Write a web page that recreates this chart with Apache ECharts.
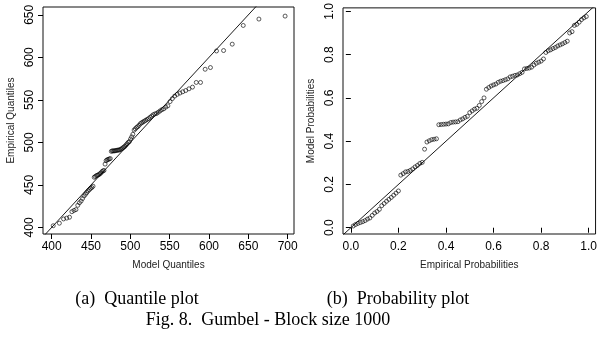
<!DOCTYPE html>
<html><head><meta charset="utf-8">
<script src="https://cdn.jsdelivr.net/npm/echarts@6.0.0/dist/echarts.min.js"></script>
<style>html,body{margin:0;padding:0;background:#fff}#c{width:600px;height:337px}</style>
</head><body><div id="c"></div>
<script>
// ---- data ----
const modelQuantiles = [
402.0,409.8,415.1,419.2,422.7,425.7,428.4,430.9,433.2,435.3,
437.4,439.3,441.2,443.0,444.7,446.3,448.0,449.5,451.1,452.6,
454.1,455.5,457.0,458.4,459.8,461.2,462.5,463.9,465.2,466.5,
467.9,469.2,470.5,471.8,473.1,474.5,475.8,477.1,478.4,479.7,
481.0,482.3,483.7,485.0,486.3,487.7,489.0,490.4,491.8,493.2,
494.6,496.0,497.4,498.8,500.3,501.7,503.2,504.8,506.3,507.9,
509.4,511.0,512.7,514.4,516.0,517.8,519.6,521.4,523.2,525.1,
527.1,529.1,531.2,533.3,535.5,537.8,540.1,542.5,545.1,547.7,
550.5,553.4,556.4,559.6,563.0,566.6,570.4,574.5,579.0,583.8,
589.2,595.1,601.8,609.5,618.5,629.5,643.5,663.4,696.7];
const empiricalQuantiles = [
402,405,410,411,412,418.5,420,421,426,429,
431,434,437,439,441,443,444.5,446,447,448.5,
459,460,461,461.5,462,463,464,465.5,466.5,467,
474.5,478.5,479.5,480,480.5,481,489.5,490,490,490,
490.3,490.6,490.8,491,491.2,491.8,492.5,493.5,494.5,495.5,
497,498.5,500,501,504,506.5,509.5,514.5,516,517.5,
518.5,520,522,523,524,525,526,527,528,529.5,
531,532.5,533.5,534,535.5,537,538.5,539.5,541.5,543,
548,551.5,554.5,556.5,558,559.5,561,563,565,570.5,
570.5,586,588,607.5,608,615.5,637.5,645,648.5];
const empiricalProbabilities = [
0.01,0.02,0.03,0.04,0.05,0.06,0.07,0.08,0.09,0.10,
0.11,0.12,0.13,0.14,0.15,0.16,0.17,0.18,0.19,0.20,
0.21,0.22,0.23,0.24,0.25,0.26,0.27,0.28,0.29,0.30,
0.31,0.32,0.33,0.34,0.35,0.36,0.37,0.38,0.39,0.40,
0.41,0.42,0.43,0.44,0.45,0.46,0.47,0.48,0.49,0.50,
0.51,0.52,0.53,0.54,0.55,0.56,0.57,0.58,0.59,0.60,
0.61,0.62,0.63,0.64,0.65,0.66,0.67,0.68,0.69,0.70,
0.71,0.72,0.73,0.74,0.75,0.76,0.77,0.78,0.79,0.80,
0.81,0.82,0.83,0.84,0.85,0.86,0.87,0.88,0.89,0.90,
0.91,0.92,0.93,0.94,0.95,0.96,0.97,0.98,0.99];
const modelProbabilities = [
.008,.015,.020,.024,.028,.033,.040,.045,.057,.068,
.075,.085,.102,.112,.122,.131,.140,.150,.160,.170,
.243,.250,.258,.260,.265,.272,.281,.288,.297,.302,
.363,.396,.402,.407,.409,.411,.476,.477,.478,.479,
.480,.486,.488,.489,.490,.498,.503,.510,.515,.532,
.540,.548,.552,.565,.583,.600,.640,.648,.655,.660,
.664,.672,.677,.680,.684,.688,.697,.700,.704,.706,
.712,.718,.734,.736,.738,.742,.752,.760,.765,.770,
.780,.810,.818,.822,.828,.833,.840,.845,.850,.856,
.862,.900,.906,.935,.940,.950,.962,.970,.976];
const quantileXTicks = [400,450,500,550,600,650,700];
const quantileYTicks = [400,450,500,550,600,650];
const probTicks = [0,0.2,0.4,0.6,0.8,1];
const quantileXRange = [389, 708];
const quantileYRange = [392.3, 659.2];
const probXRange = [-0.033, 1.029];
const probYRange = [-0.029, 1.016];
const axisTitles = ['Model Quantiles','Empirical Quantiles','Empirical Probabilities','Model Probabilities'];
const captions = ['(a)  Quantile plot','(b)  Probability plot','Fig. 8.  Gumbel - Block size 1000'];

// ---- chart ----
const sans = "'Liberation Sans', Arial, sans-serif";
const serif = "'Liberation Serif', 'Times New Roman', serif";
function mkAxis(grid, range, ticks, fmt, name, gap, isY) {
  return {
    type: 'value', gridIndex: grid, min: range[0], max: range[1],
    axisLine: {show: false},
    splitLine: {show: false},
    axisTick: {show: true, inside: false, length: 5, customValues: ticks,
      lineStyle: {color: '#000', width: 1}},
    axisLabel: {customValues: ticks, formatter: fmt, color: '#000', fontSize: 12,
      fontFamily: sans, margin: isY ? 7 : 7, rotate: isY ? 90 : 0},
    name: name, nameLocation: 'middle', nameGap: gap,
    nameTextStyle: {color: '#222', fontSize: 10, fontFamily: sans}
  };
}
const zip = (a, b) => a.map((v, i) => [v, b[i]]);
const pointStyle = {symbol: 'circle', symbolSize: 4,
  itemStyle: {color: 'rgba(0,0,0,0)', borderColor: '#000', borderWidth: 0.8}};
const chart = echarts.init(document.getElementById('c'), null, {renderer: 'canvas'});
chart.setOption({
  animation: false,
  backgroundColor: '#fff',
  grid: [
    {left: 43, top: 7, width: 251, height: 227, show: true, borderColor: '#111', borderWidth: 1, backgroundColor: 'transparent'},
    {left: 343, top: 7, width: 253, height: 227, show: true, borderColor: '#111', borderWidth: 1, backgroundColor: 'transparent'}
  ],
  xAxis: [
    mkAxis(0, quantileXRange, quantileXTicks, v => String(v), axisTitles[0], 26, false),
    mkAxis(1, probXRange, probTicks, v => v.toFixed(1), axisTitles[2], 26, false)
  ],
  yAxis: [
    mkAxis(0, quantileYRange, quantileYTicks, v => String(v), axisTitles[1], 27, true),
    mkAxis(1, probYRange, probTicks, v => v.toFixed(1), axisTitles[3], 27, true)
  ],
  series: [
    Object.assign({type: 'scatter', xAxisIndex: 0, yAxisIndex: 0,
      data: zip(modelQuantiles, empiricalQuantiles)}, pointStyle),
    {type: 'line', xAxisIndex: 0, yAxisIndex: 0, symbol: 'none', clip: true,
      data: [[quantileXRange[0], quantileXRange[0]], [quantileXRange[1], quantileXRange[1]]],
      lineStyle: {color: '#000', width: 0.9}},
    Object.assign({type: 'scatter', xAxisIndex: 1, yAxisIndex: 1,
      data: zip(empiricalProbabilities, modelProbabilities)}, pointStyle),
    {type: 'line', xAxisIndex: 1, yAxisIndex: 1, symbol: 'none', clip: true,
      data: [[probXRange[0], probXRange[0]], [probXRange[1], probXRange[1]]],
      lineStyle: {color: '#000', width: 0.9}}
  ],
  graphic: [
    {type: 'text', x: 137, y: 299, style: {text: captions[0], font: '18px ' + serif, fill: '#000', textAlign: 'center', textVerticalAlign: 'middle'}},
    {type: 'text', x: 398, y: 299, style: {text: captions[1], font: '18px ' + serif, fill: '#000', textAlign: 'center', textVerticalAlign: 'middle'}},
    {type: 'text', x: 268, y: 320, style: {text: captions[2], font: '18px ' + serif, fill: '#000', textAlign: 'center', textVerticalAlign: 'middle'}}
  ]
});
</script></body></html>
